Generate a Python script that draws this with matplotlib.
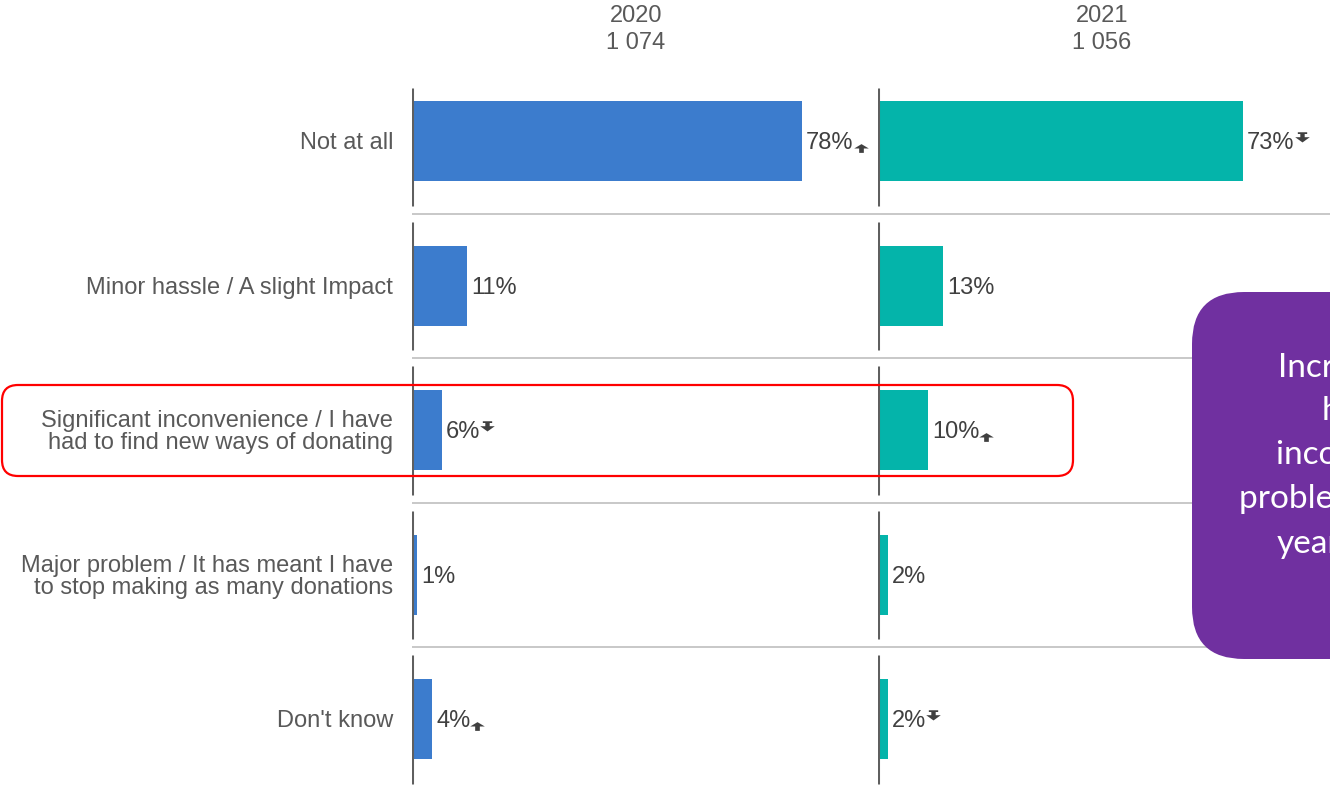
import matplotlib
matplotlib.use("Agg")
import matplotlib.pyplot as plt
from matplotlib.patches import FancyBboxPatch
from matplotlib.path import Path

plt.rcParams['font.family'] = ['Liberation Sans', 'DejaVu Sans']

categories = [
    "Not at all",
    "Minor hassle / A slight Impact",
    "Significant inconvenience / I have\nhad to find new ways of donating",
    "Major problem / It has meant I have\nto stop making as many donations",
    "Don't know",
]
years = ["2020", "2021"]
bases = ["1 074", "1 056"]
values_2020 = [78, 11, 6, 1, 4]
values_2021 = [73, 13, 10, 2, 2]
# significance vs the other year: 'up', 'down' or None
sig_2020 = ["up", None, "down", None, "up"]
sig_2021 = ["down", None, "up", None, "down"]

callout_lines = [
    "Increase in those",
    "having had",
    "inconvenience or major",
    "problems compared to last",
    "year",
]

BLUE = "#3C7CCD"
TEAL = "#04B4AA"
PURPLE = "#7030A0"
LABEL = "#595959"
VALUE = "#404040"
AXIS = "#5F5F5F"
SEP = "#C8C8C8"
FS = 17

W, H = 1330, 787
fig = plt.figure(figsize=(W / 100, H / 100), dpi=100)

# rows occupy pixel band 69..791.5, 5 px per percent
top_px, bot_px = 69, 791.5
px_per_pct = 5.0
band = (bot_px - top_px) / len(categories)
dy = 2 / band  # nudge text down a touch

panels = []
for left_px, width_px in [(412, 470), (878, 452)]:
    ax = fig.add_axes([left_px / W, 1 - bot_px / H, width_px / W, (bot_px - top_px) / H])
    ax.set_xlim(0, width_px / px_per_pct)
    ax.set_ylim(len(categories) - 0.5, -0.5)
    ax.axis("off")
    panels.append(ax)

ax1, ax2 = panels
rows = list(range(len(categories)))

# grey separators between rows, running across both panels to the right edge
for i in rows[:-1]:
    ax1.plot([0, (W - 412) / px_per_pct], [i + 0.5, i + 0.5], color=SEP, lw=1.4,
             clip_on=False, zorder=0, solid_capstyle="butt")

gap = 8 / band
first_top = (88 - (top_px + band / 2)) / band

texts = []
for ax, vals, sigs, color, year, base in [
    (ax1, values_2020, sig_2020, BLUE, years[0], bases[0]),
    (ax2, values_2021, sig_2021, TEAL, years[1], bases[1]),
]:
    ax.barh(rows, vals, height=80 / band, color=color, zorder=2)
    for i in rows:
        y0 = first_top if i == 0 else i - 0.5 + gap
        ax.vlines(0, y0, i + 0.5 - gap, color=AXIS, lw=2.2, zorder=3)
    for i, v in enumerate(vals):
        t = ax.text(v + 4 / px_per_pct, i + dy, f"{v}%", va="center", ha="left",
                    fontsize=FS, color=VALUE)
        texts.append((ax, t, sigs[i]))
    hx = 224 / px_per_pct
    ax.text(hx, (16 - (top_px + band / 2)) / band, year, ha="center", va="center",
            fontsize=FS, color=LABEL, clip_on=False)
    ax.text(hx, (43 - (top_px + band / 2)) / band, base, ha="center", va="center",
            fontsize=FS, color=LABEL, clip_on=False)

for i, cat in enumerate(categories):
    ax1.text(-19 / px_per_pct, i + dy, cat, ha="right", va="center", multialignment="right",
             fontsize=FS, color=LABEL, linespacing=0.98, clip_on=False)

# small significance arrows placed right after the value labels
up_arrow = Path([(-0.5, 0), (0, 0.3), (0.5, 0), (0.16, 0), (0.16, -0.3),
                 (-0.16, -0.3), (-0.16, 0), (-0.5, 0)],
                [Path.MOVETO] + [Path.LINETO] * 6 + [Path.CLOSEPOLY])
down_arrow = Path.make_compound_path(
    Path([(-0.32, 0.36), (0.32, 0.36), (0.32, 0.24), (-0.32, 0.24), (-0.32, 0.36)],
         [Path.MOVETO] + [Path.LINETO] * 3 + [Path.CLOSEPOLY]),
    Path([(-0.15, 0.24), (0.15, 0.24), (0.15, 0.02), (0.5, 0.02), (0, -0.34),
          (-0.5, 0.02), (-0.15, 0.02), (-0.15, 0.24)],
         [Path.MOVETO] + [Path.LINETO] * 6 + [Path.CLOSEPOLY]),
)

fig.canvas.draw()
renderer = fig.canvas.get_renderer()
for ax, t, sig in texts:
    if sig is None:
        continue
    bb = t.get_window_extent(renderer)
    yc = (bb.y0 + bb.y1) / 2
    if sig == "up":
        xy = (bb.x1 + 7, yc - 4.5)
        marker = up_arrow
    else:
        xy = (bb.x1 + 7, yc + 6)
        marker = down_arrow
    xd, yd = ax.transData.inverted().transform(xy)
    ax.plot([xd], [yd], marker=marker, markersize=10.5, color=VALUE, mec="none",
            linestyle="none", clip_on=False, zorder=4)

# overlay in pixel coordinates for the highlight box and the callout
ov = fig.add_axes([0, 0, 1, 1], zorder=5)
ov.set_xlim(0, W)
ov.set_ylim(H, 0)
ov.axis("off")
ov.add_patch(FancyBboxPatch((2, 385), 1071, 91,
                            boxstyle="round,pad=0,rounding_size=16",
                            fc="none", ec="#FF0000", lw=1.6))
ov.add_patch(FancyBboxPatch((1192, 292), 420, 367,
                            boxstyle="round,pad=0,rounding_size=52",
                            fc=PURPLE, ec="none"))
for (x, y), line in zip([(1278, 368), (1322, 411), (1276, 455), (1239, 499), (1277, 544)],
                        callout_lines):
    ov.text(x, y, line, ha="left", va="center", color="white", fontsize=24,
            family="Lato", clip_on=True)

fig.savefig("out.png", dpi=100)
